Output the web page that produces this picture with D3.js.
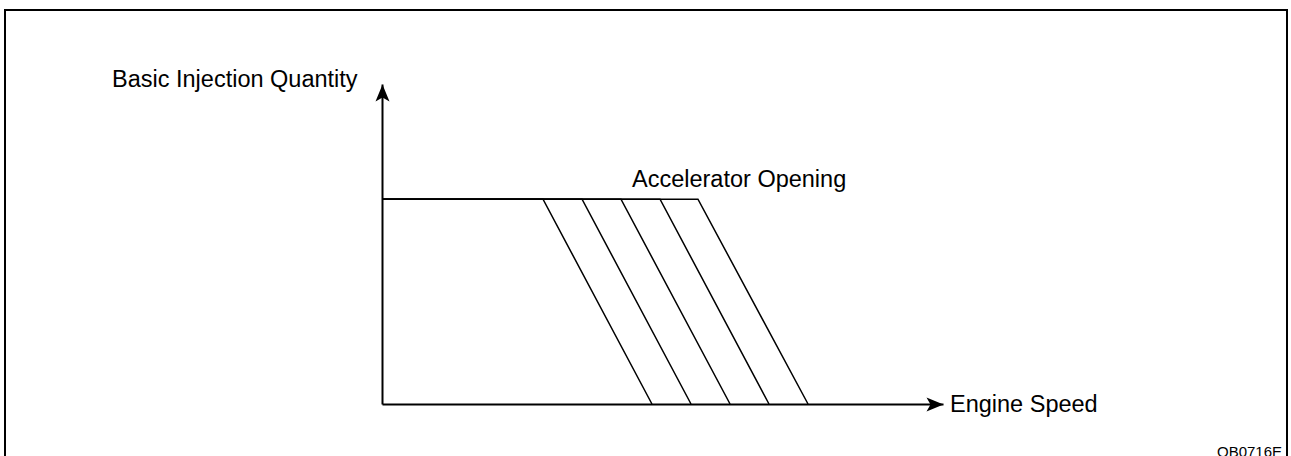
<!DOCTYPE html>
<html>
<head>
<meta charset="utf-8">
<script src="https://cdn.jsdelivr.net/npm/d3@7"></script>
<style>
  body { margin: 0; background: #fff; }
  text { font-family: "Liberation Sans", Arial, sans-serif; fill: #000; }
</style>
</head>
<body>
<div id="chart"></div>
<script>
// engine speed (rpm) where each accelerator-opening curve leaves the full-load line / reaches zero
const openingStart = [1435, 1783, 2130, 2478, 2816];
const openingEnd = [2406, 2754, 3102, 3449, 3797];
const fullQuantity = 64;
const speedMax = 5000;
const quantityMax = 100;

const labels = {
  y: "Basic Injection Quantity",
  x: "Engine Speed",
  curves: "Accelerator Opening",
  code: "QB0716E"
};

const W = 1291, H = 456;

const svg = d3.select("#chart")
  .append("svg")
    .attr("width", W)
    .attr("height", H);

// frame
svg.append("rect")
  .attr("x", 5)
  .attr("y", 10)
  .attr("width", 1282)
  .attr("height", 470)
  .attr("fill", "none")
  .attr("stroke", "#000")
  .attr("stroke-width", 2);

const defs = svg.append("defs");
defs.append("marker")
  .attr("id", "arrow")
  .attr("markerUnits", "userSpaceOnUse")
  .attr("markerWidth", 20)
  .attr("markerHeight", 20)
  .attr("viewBox", "-18 -8 20 16")
  .attr("refX", 0)
  .attr("refY", 0)
  .attr("orient", "auto")
  .append("path")
    .attr("d", "M0,0L-17,-7L-13,0L-17,7Z")
    .attr("fill", "#000");

const x = d3.scaleLinear().domain([0, speedMax]).range([382, 943]);
const y = d3.scaleLinear().domain([0, quantityMax]).range([404, 84]);

const xAxis = svg.append("g")
  .attr("transform", `translate(0,${y(0)})`)
  .call(d3.axisBottom(x).tickValues([]).tickSizeOuter(0));

const yAxis = svg.append("g")
  .attr("transform", `translate(${x(0)},0)`)
  .call(d3.axisLeft(y).tickValues([]).tickSizeOuter(0));

[xAxis, yAxis].forEach(g => {
  g.select(".domain")
    .attr("stroke", "#000")
    .attr("stroke-width", 2)
    .attr("marker-end", "url(#arrow)");
});

const curves = openingStart.map((s, i) => [
  { speed: 0, q: fullQuantity },
  { speed: s, q: fullQuantity },
  { speed: openingEnd[i], q: 0 }
]);

const line = d3.line()
  .x(d => x(d.speed))
  .y(d => y(d.q));

svg.append("g")
  .selectAll("path")
  .data(curves)
  .join("path")
    .attr("d", line)
    .attr("fill", "none")
    .attr("stroke", "#000")
    .attr("stroke-width", 1.5);

// texts
svg.append("text")
  .attr("x", 112)
  .attr("y", 87)
  .attr("font-size", 23.5)
  .text(labels.y);

svg.append("text")
  .attr("x", 950)
  .attr("y", 412)
  .attr("font-size", 23.5)
  .text(labels.x);

svg.append("text")
  .attr("x", 632)
  .attr("y", 187)
  .attr("font-size", 23.5)
  .text(labels.curves);

svg.append("text")
  .attr("x", 1217)
  .attr("y", 457)
  .attr("font-size", 15)
  .text(labels.code);
</script>
</body>
</html>
